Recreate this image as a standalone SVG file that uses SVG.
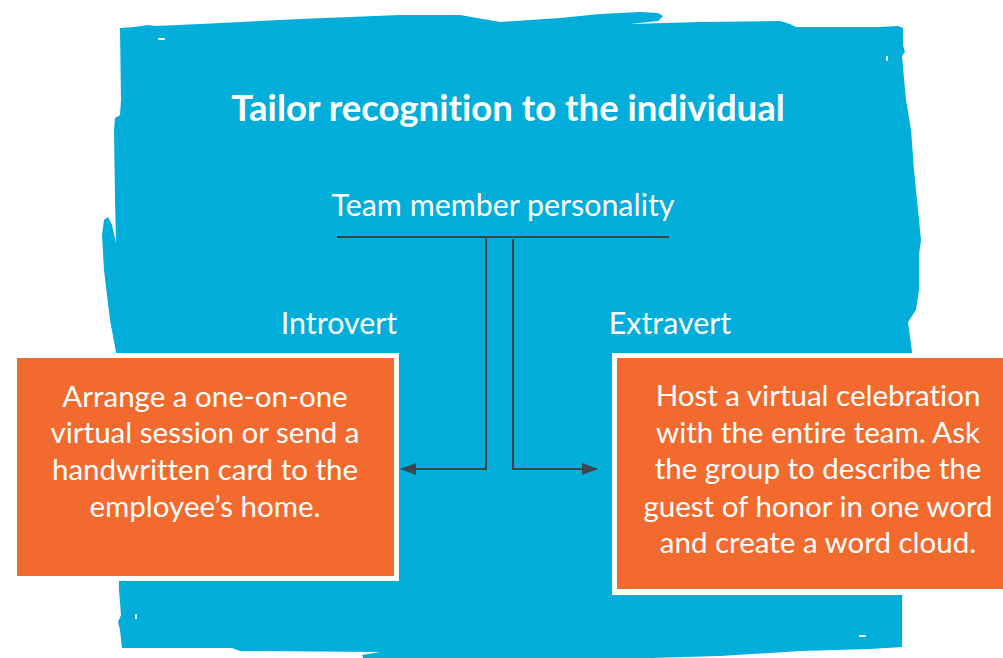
<svg xmlns="http://www.w3.org/2000/svg" width="1003" height="658" viewBox="0 0 1003 658">
  <defs>
    <marker id="arr" viewBox="0 0 16 12" refX="15" refY="6" markerWidth="16" markerHeight="12" markerUnits="userSpaceOnUse" orient="auto">
      <path d="M0,0 L16,6 L0,12 Z" fill="#3b474f"/>
    </marker>
    <style>
      .t { font-family: Lato, "Open Sans", sans-serif; fill: #ffffff; text-anchor: middle; font-variant-ligatures: none; font-feature-settings: "liga" 0; }
      .title { font-size: 36.5px; font-weight: bold; }
      .lbl { font-size: 30.4px; }
      .body { font-size: 29.5px; }
      .box-outer { fill: #ffffff; }
      .box-inner { fill: #f26a2d; }
      .conn { fill: none; stroke: #3b474f; stroke-width: 2; }
      .dot { fill: #ffffff; }
    </style>
  </defs>
  <rect width="1003" height="658" fill="#ffffff"/>
  <g id="background">
    <path fill="#00aed9" d="M120,28 L135,27 L148,25 L156,26 L200,24 L300,19 L400,15 L460,15 L500,22 L560,18 L600,14 L640,12 L658,13 L663,16 L658,21 L630,24 L700,22 L780,21 L790,24 L796,27 L880,27 L898,26 L903,28 L903,45 L905,52 L902,56 L906,100 L911,130 L914,170 L921,240 L919,255 L919,290 L916,310 L908,322 L912,352 L912,360 L902,600 L902,647 L870,649 L800,651 L720,656 L650,658 L400,658 L363,658 L362,655 L380,652 L240,651 L232,648 L122,648 L120,630 L118,622 L121,615 L119,590 L116,352 L110,320 L104,270 L102,235 L104,220 L108,217 L112,225 L116,243 L115,200 L114,130 L115,118 L120,115 L121,100 Z"/>
    <rect class="dot" x="158" y="38" width="7" height="2" rx="1"/>
    <rect class="dot" x="886" y="56" width="2" height="5" rx="1"/>
    <rect class="dot" x="135" y="614" width="2" height="5" rx="1"/>
    <rect class="dot" x="859" y="635" width="7" height="2" rx="1"/>
  </g>
  <g id="title">
    <text class="t title" x="508" y="121">Tailor recognition to the individual</text>
  </g>
  <g id="root">
    <text class="t lbl" x="503" y="216">Team member personality</text>
  </g>
  <g id="connectors">
    <line class="conn" x1="337" y1="237" x2="669" y2="237"/>
    <path class="conn" d="M486,237 L486,469 L401,469" marker-end="url(#arr)"/>
    <path class="conn" d="M513,239 L513,469 L597,469" marker-end="url(#arr)"/>
  </g>
  <g id="introvert">
    <text class="t lbl" x="339" y="334">Introvert</text>
    <rect class="box-outer" x="12" y="353" width="387" height="228"/>
    <rect class="box-inner" x="17" y="358" width="377" height="218"/>
    <text class="t body" x="205" y="407">Arrange a one-on-one</text>
    <text class="t body" x="205" y="443">virtual session or send a</text>
    <text class="t body" x="205" y="480">handwritten card to the</text>
    <text class="t body" x="205" y="517">employee’s home.</text>
  </g>
  <g id="extravert">
    <text class="t lbl" x="670" y="334">Extravert</text>
    <rect class="box-outer" x="612" y="353" width="391" height="242"/>
    <rect class="box-inner" x="617" y="358" width="386" height="231"/>
    <text class="t body" x="818" y="406">Host a virtual celebration</text>
    <text class="t body" x="818" y="443">with the entire team. Ask</text>
    <text class="t body" x="818" y="479">the group to describe the</text>
    <text class="t body" x="818" y="517">guest of honor in one word</text>
    <text class="t body" x="818" y="553">and create a word cloud.</text>
  </g>
</svg>
